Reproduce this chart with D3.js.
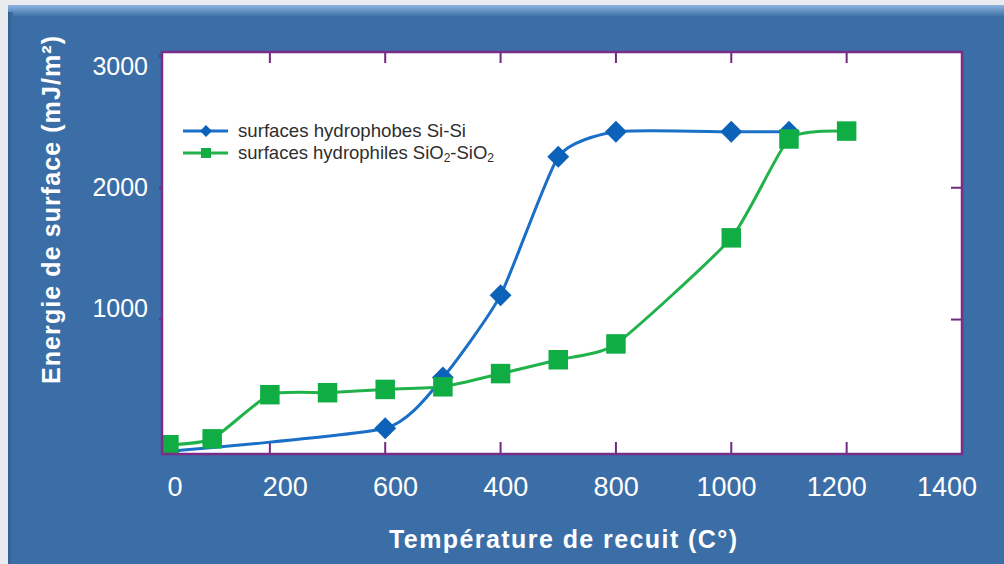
<!DOCTYPE html>
<html><head><meta charset="utf-8">
<script src="https://cdn.jsdelivr.net/npm/d3@7"></script>
<style>html,body{margin:0;padding:0;background:#e9ebef;}svg{display:block;}</style>
</head><body>
<svg id="c" width="1004" height="564"></svg>
<script>
// ---- data ----
const hydrophobeX = [25, 400, 500, 600, 700, 800, 1000, 1100];
const hydrophobeY = [0, 175, 560, 1185, 2235, 2425, 2425, 2425];
const hydrophileX = [25, 100, 200, 300, 400, 500, 600, 700, 800, 1000, 1100, 1200];
const hydrophileY = [50, 95, 430, 445, 470, 490, 590, 695, 815, 1620, 2370, 2430];
const xTickLabels = ["0", "200", "600", "400", "800", "1000", "1200", "1400"];
const yTickLabels = [3000, 2000, 1000];
const xTickMarks = [200, 400, 600, 800, 1000, 1200];
const yTickMarks = [1000, 2000, 3000];
const seriesNames = ["surfaces hydrophobes Si-Si", "surfaces hydrophiles SiO2-SiO2"];

const svg = d3.select("#c");
const W = 1004, H = 564;
const BLUE_BG = "#3b6ea6";
const PURPLE = "#7a2d87";
const BLUE = "#1a6fc6", BLUE_M = "#0b62b8";
const GREEN = "#21b24b", GREEN_M = "#10ad45";

// background frame
const defs = svg.append("defs");
const gTop = defs.append("linearGradient").attr("id", "gt").attr("x1", 0).attr("y1", 0).attr("x2", 0).attr("y2", 1);
gTop.append("stop").attr("offset", 0).attr("stop-color", "#8db4e0");
gTop.append("stop").attr("offset", 1).attr("stop-color", BLUE_BG);
const gLeft = defs.append("linearGradient").attr("id", "gl").attr("x1", 0).attr("y1", 0).attr("x2", 1).attr("y2", 0);
gLeft.append("stop").attr("offset", 0).attr("stop-color", "#335f92");
gLeft.append("stop").attr("offset", 1).attr("stop-color", BLUE_BG);

svg.append("rect").attr("x", 0).attr("y", 0).attr("width", W).attr("height", H).attr("fill", "#e9ebef");
svg.append("rect").attr("x", 8).attr("y", 5).attr("width", W - 8).attr("height", H - 5).attr("fill", BLUE_BG);
svg.append("rect").attr("x", 8).attr("y", 5).attr("width", W - 8).attr("height", 12).attr("fill", "url(#gt)");
svg.append("rect").attr("x", 8).attr("y", 12).attr("width", 5).attr("height", H - 12).attr("fill", "url(#gl)");

// scales
const plot = {l: 162, r: 962, t: 52, b: 454};
const x = d3.scaleLinear().domain([13, 1400]).range([plot.l, plot.r]);
const y = d3.scaleLinear().domain([-20, 3030]).range([plot.b, plot.t]);
const xLab = d3.scalePoint().domain(xTickLabels).range([175, 947]);
const yLab = d3.scaleLinear().domain([1000, 3000]).range([308, 66]);

// plot area
svg.append("rect").attr("x", plot.l).attr("y", plot.t).attr("width", plot.r - plot.l).attr("height", plot.b - plot.t)
  .attr("fill", "#ffffff");

// tick marks
const tg = svg.append("g").attr("stroke", "#6e2a7c").attr("stroke-width", 2);
tg.selectAll(".tt").data(xTickMarks).join("line")
  .attr("x1", d => x(d)).attr("x2", d => x(d)).attr("y1", plot.t).attr("y2", plot.t + 11);
tg.selectAll(".tb").data(xTickMarks).join("line")
  .attr("x1", d => x(d)).attr("x2", d => x(d)).attr("y1", plot.b).attr("y2", plot.b - 12);
tg.selectAll(".tr").data(yTickMarks.filter(d => d < 3000)).join("line")
  .attr("x1", plot.r).attr("x2", plot.r - 11).attr("y1", d => y(d)).attr("y2", d => y(d));
tg.selectAll(".tl").data(yTickMarks).join("line")
  .attr("x1", plot.l).attr("x2", plot.l - 3).attr("y1", d => y(d)).attr("y2", d => y(d));

// series
const s1 = hydrophobeX.map((v, i) => [v, hydrophobeY[i]]);
const s2 = hydrophileX.map((v, i) => [v, hydrophileY[i]]);
const line = d3.line().x(d => x(d[0])).y(d => y(d[1])).curve(d3.curveCardinal.tension(0.45));

const clip = defs.append("clipPath").attr("id", "pc");
clip.append("rect").attr("x", plot.l).attr("y", plot.t).attr("width", plot.r - plot.l).attr("height", plot.b - plot.t);

const pg = svg.append("g").attr("clip-path", "url(#pc)");
pg.append("path").datum(s1).attr("d", line).attr("fill", "none").attr("stroke", BLUE).attr("stroke-width", 3);
pg.selectAll(".dia").data(s1).join("path")
  .attr("d", d3.symbol(d3.symbolSquare, 240)())
  .attr("transform", d => `translate(${x(d[0])},${y(d[1])}) rotate(45)`)
  .attr("fill", BLUE_M);
pg.append("path").datum(s2).attr("d", line).attr("fill", "none").attr("stroke", GREEN).attr("stroke-width", 3);
pg.selectAll(".sq").data(s2).join("path")
  .attr("d", d3.symbol(d3.symbolSquare, 380)())
  .attr("transform", d => `translate(${x(d[0])},${y(d[1])})`)
  .attr("fill", GREEN_M);

// border
svg.append("rect").attr("x", plot.l).attr("y", plot.t).attr("width", plot.r - plot.l).attr("height", plot.b - plot.t)
  .attr("fill", "none").attr("stroke", PURPLE).attr("stroke-width", 2.5);

// legend
const lg = svg.append("g").attr("font-family", "Liberation Sans, Arial, sans-serif").attr("font-size", 18.5).attr("fill", "#2e2e2e");
const legRows = [
  {name: seriesNames[0], color: BLUE, mcolor: BLUE_M, sym: "d", yy: 131},
  {name: seriesNames[1], color: GREEN, mcolor: GREEN_M, sym: "s", yy: 153}
];
legRows.forEach(r => {
  lg.append("line").attr("x1", 183).attr("x2", 228).attr("y1", r.yy).attr("y2", r.yy).attr("stroke", r.color).attr("stroke-width", 3);
  if (r.sym === "d") {
    lg.append("path").attr("d", d3.symbol(d3.symbolSquare, 70)()).attr("transform", `translate(206,${r.yy}) rotate(45)`).attr("fill", r.mcolor);
  } else {
    lg.append("path").attr("d", d3.symbol(d3.symbolSquare, 100)()).attr("transform", `translate(206,${r.yy})`).attr("fill", r.mcolor);
  }
});
lg.append("text").attr("x", 238).attr("y", 131).attr("dy", "0.35em").attr("textLength", 228).attr("lengthAdjust", "spacingAndGlyphs").text(seriesNames[0]);
const t2 = lg.append("text").attr("x", 238).attr("y", 153).attr("dy", "0.35em");
t2.append("tspan").text("surfaces hydrophiles SiO");
t2.append("tspan").attr("font-size", 12).attr("dy", 3).text("2");
t2.append("tspan").attr("dy", -3).text("-SiO");
t2.append("tspan").attr("font-size", 12).attr("dy", 3).text("2");

// tick labels
const font = "Liberation Sans, Arial, sans-serif";
svg.append("g").selectAll("text").data(xTickLabels).join("text")
  .attr("x", d => xLab(d)).attr("y", 487).attr("dy", "0.35em")
  .attr("text-anchor", "middle").attr("font-family", font).attr("font-size", 27).attr("fill", "#ffffff")
  .text(d => d);
svg.append("g").selectAll("text").data(yTickLabels).join("text")
  .attr("x", 148).attr("y", d => yLab(d)).attr("dy", "0.35em")
  .attr("text-anchor", "end").attr("font-family", font).attr("font-size", 25).attr("fill", "#ffffff")
  .text(d => d);

// axis titles
svg.append("text").attr("x", 563).attr("y", 548).attr("text-anchor", "middle")
  .attr("font-family", font).attr("font-weight", "bold").attr("font-size", 25).attr("fill", "#ffffff")
  .attr("textLength", 348).attr("lengthAdjust", "spacing")
  .text("Température de recuit (C°)");
svg.append("text").attr("transform", "translate(60,210) rotate(-90)").attr("text-anchor", "middle")
  .attr("font-family", font).attr("font-weight", "bold").attr("font-size", 25).attr("fill", "#ffffff")
  .attr("textLength", 348).attr("lengthAdjust", "spacing")
  .text("Energie de surface (mJ/m²)");
</script>
</body></html>
